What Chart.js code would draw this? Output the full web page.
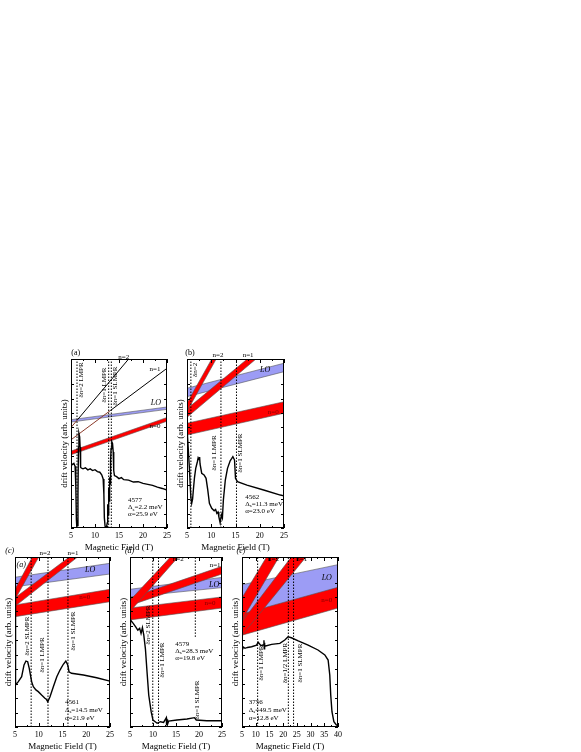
<!DOCTYPE html>
<html>
<head>
<meta charset="utf-8">
<script src="https://cdn.jsdelivr.net/npm/chart.js@4.4.1/dist/chart.umd.min.js"></script>
<style>
  html, body { margin: 0; background: #fff; }
  body { position: relative; width: 581px; height: 752px; overflow: hidden; }
  canvas { position: absolute; }
</style>
</head>
<body>
<canvas id="chartA"></canvas>
<canvas id="chartB"></canvas>
<canvas id="chartC"></canvas>
<canvas id="chartD"></canvas>
<canvas id="chartE"></canvas>
<script>
// field in T, drift velocity in arb. units (0 = frame bottom, 100 = frame top)

// ---- panel (a), sample 4577 ----
const aDrift = [[5,38.5],[5.3,37.5],[5.6,38.2],[5.85,36.5],[6.0,25],[6.12,5],[6.2,1],[6.35,1.5],[6.45,20],[6.55,48],[6.65,56],[6.8,54],[6.9,48],[7.0,36],[7.15,35.5],[7.5,35],[8,35.6],[8.5,34.4],[9,35],[9.5,34],[10,34.5],[10.5,33.4],[11,33],[11.4,31.5],[11.7,29],[11.85,20],[11.95,6],[12.1,1],[12.4,0.5],[12.55,3],[12.65,14],[12.75,8],[12.85,24],[12.95,16],[13.05,30],[13.15,26],[13.25,40],[13.35,47],[13.5,51],[13.65,50],[13.8,45],[13.9,34],[14.05,31],[14.5,30.4],[15,29.2],[15.5,29.8],[16,28.6],[17,28.3],[18,27.2],[19,27.4],[20,26.4],[21,25.8],[22,25.2],[23,24.2],[24,23.4],[25,22.5]]
const aLoLow = [[5,62.7],[25,70.2]]
const aLoHigh = [[5,64.1],[25,71.6]]
const aN0Low = [[5,43.3],[25,63.2]]
const aN0High = [[5,45.5],[25,65.4]]
const aN1 = [[5,52.2],[13.2,69.5],[25,94.5]]
const aN2 = [[5,59.5],[6.4,64.2],[25,127]]
const aMarks = [6.25, 12.85, 13.4]

// ---- panel (b), sample 4562 ----
const bDrift = [[5.0,58],[5.07,56],[5.48,36],[5.8,18],[5.97,14.6],[6.15,17],[6.31,22.5],[6.55,30],[6.8,35.3],[7.14,39.2],[7.3,41.5],[7.48,40.5],[7.6,42],[7.69,37.9],[8.03,32.4],[8.52,31.4],[8.93,29.4],[9.28,22.5],[9.62,14.6],[10.1,11.7],[10.6,10.2],[10.9,11],[11.15,8.7],[11.4,9.5],[11.56,6.7],[11.83,3.1],[12.1,7.7],[12.3,6],[12.5,16.6],[12.9,28.4],[13.35,35.3],[13.9,39.8],[14.2,41],[14.46,42.2],[14.8,40.2],[15.0,29.4],[15.4,27.4],[17.36,25.4],[20.8,22.5],[24.25,19.5],[25,19]]
const bLoLow = [[5,77.7],[25,92.5]]
const bLoHigh = [[5,82.7],[25,97.5]]
const bN0Low = [[5,55],[25,67.9]]
const bN0High = [[5,62],[25,74.7]]
const bN1Low = [[5,65.5],[25,114]]
const bN1High = [[5,70.5],[25,118]]
const bN2Low = [[5,69],[25,172]]
const bN2High = [[5,74],[25,176]]
const bMarks = [5.8, 12.0, 15.2]

// ---- panel (c), sample 4561 ----
const cDrift = [[5.0,82],[5.08,50],[5.15,24.7],[5.7,26.7],[6.4,29.6],[6.9,36.5],[7.3,38.8],[7.67,38.4],[8.0,34.5],[8.5,26.7],[8.86,23.7],[9.4,21.8],[9.9,20.8],[10.6,18.8],[11.3,16.9],[11.6,16.3],[11.9,14.9],[12.37,17.8],[13.07,23.7],[13.8,29.6],[14.47,33.5],[15.17,36.9],[15.7,38.8],[16.1,36.5],[16.37,32.5],[16.9,31.6],[19.4,30.6],[22.2,29],[25,27]]
const cLoLow = [[5,82.5],[25,90]]
const cLoHigh = [[5,88.1],[25,96.3]]
const cN0Low = [[5,64.9],[25,73.7]]
const cN0High = [[5,71.8],[25,81]]
const cN1Low = [[5,71],[25,115]]
const cN1High = [[5,76],[25,118]]
const cN2Low = [[5,75],[25,175]]
const cN2High = [[5,81],[25,185]]
const cMarks = [8.4, 11.95, 16.15]

// ---- panel (d), sample 4579 ----
const dDrift = [[5.0,64],[5.1,62.9],[5.7,61],[6.2,59],[6.7,57],[7.1,58],[7.4,55],[7.7,58.4],[8.0,54],[8.35,46],[8.7,32.5],[9.07,18.8],[9.6,9],[10.0,4.1],[10.9,2.2],[11.6,3.1],[12.3,2.7],[12.9,5.5],[12.95,1],[13.05,4.5],[13.15,1.5],[13.4,3.5],[15.2,4.1],[17.4,4.7],[19.0,5.5],[19.4,4.1],[21.7,3.7],[25,3.7]]
const dLoLow = [[5,76.5],[25,82]]
const dLoHigh = [[5,81],[25,88]]
const dN0Low = [[5,63],[25,70]]
const dN0High = [[5,70],[25,76.5]]
const dN1Low = [[5,71.5],[25,90]]
const dN1High = [[5,76],[25,94.5]]
const dN2Low = [[5,68],[25,129]]
const dN2High = [[5,74.5],[25,132.5]]
const dMarks = [9.95, 11.2, 19.2]
const dMarkEnds = [0, 0, 53]

// ---- panel (e), sample 3756 ----
const eDrift = [[5.0,44.5],[5.1,45.3],[5.5,47],[6.1,46.3],[7,46.8],[8.5,47.2],[10.3,48.2],[10.9,49.8],[11.9,47.8],[12.9,48.4],[13.0,51],[13.1,46],[13.2,49.5],[13.3,47.5],[15.8,48.6],[18.8,49.2],[20.6,51.2],[21.8,53.1],[23,52.5],[25.5,50.6],[29.1,48.2],[32.7,45.3],[35.2,42.4],[36.4,39.4],[37,30.6],[37.35,18.8],[37.8,9],[38.5,3.1],[39.4,1.2],[40,0.8]]
const eLoLow = [[5,66],[40,80]]
const eLoHigh = [[5,83.7],[40,95.5]]
const eN0Low = [[5,54],[40,70]]
const eN0High = [[5,66.5],[40,82.2]]
const eN1Low = [[5,54],[40,123]]
const eN1High = [[5,62],[40,136]]
const eN2Low = [[5,63],[40,159]]
const eN2High = [[5,76],[40,170]]
const eMarks = [10.7, 21.9, 23.8]

const RED = '#ff0000'
const BLUE = '#9c9cf5'
const EDGE = '#555'
const FONT = 'Liberation Serif'
const PAD_T = 14, PAD_R = 6, Y_W = 12, X_H = 25

Chart.defaults.font.family = FONT
Chart.defaults.color = '#000'

function pts(arr) {
	return arr.map(p => ({ x: p[0], y: p[1] }))
}

function band(low, high, color, order) {
	return [
		{ data: pts(low), borderColor: EDGE, borderWidth: 0.6, fill: false, order },
		{ data: pts(high), borderColor: EDGE, borderWidth: 0.6, backgroundColor: color, fill: '-1', order },
	]
}

function marks(xs, ends) {
	return xs.map((m, i) => ({
		data: [{ x: m, y: ends ? ends[i] : 0 }, { x: m, y: 100 }],
		borderColor: '#000', borderWidth: 1, borderDash: [1.5, 1.5], fill: false, order: 5,
	}))
}

function curve(arr) {
	return { data: pts(arr), borderColor: '#000', borderWidth: 1.4, fill: false, order: 1 }
}

// frame, inward ticks, labels and the sample note
function decor(texts, note) {
	return {
		id: 'decor',
		afterDatasetsDraw(chart) {
			const { ctx, chartArea: ca, scales: { x, y } } = chart
			ctx.save()
			ctx.strokeStyle = '#000'
			ctx.lineWidth = 1
			ctx.setLineDash([])
			ctx.beginPath()
			x.ticks.forEach(t => {
				const px = Math.round(x.getPixelForValue(t.value)) + 0.5
				const len = t.value % 5 === 0 ? 4 : 2
				ctx.moveTo(px, ca.bottom); ctx.lineTo(px, ca.bottom - len)
				ctx.moveTo(px, ca.top); ctx.lineTo(px, ca.top + len)
			})
			y.ticks.forEach(t => {
				const py = Math.round(y.getPixelForValue(t.value)) + 0.5
				ctx.moveTo(ca.left, py); ctx.lineTo(ca.left + 3, py)
				ctx.moveTo(ca.right, py); ctx.lineTo(ca.right - 3, py)
			})
			ctx.stroke()
			ctx.strokeRect(Math.round(ca.left) + 0.5, Math.round(ca.top) + 0.5, Math.round(ca.width) - 1, Math.round(ca.height) - 1)

			ctx.textBaseline = 'middle'
			texts.forEach(t => {
				ctx.font = (t.italic ? 'italic ' : '') + (t.size || 7) + 'px "' + FONT + '"'
				ctx.fillStyle = t.color || '#000'
				ctx.textAlign = 'center'
				const px = x.getPixelForValue(t.x)
				const py = y.getPixelForValue(t.y)
				if (t.rot) {
					ctx.save()
					ctx.translate(px, py)
					ctx.rotate(-Math.PI / 2)
					ctx.fillText(t.text, 0, 0)
					ctx.restore()
				} else {
					ctx.fillText(t.text, px, py)
				}
			})

			ctx.fillStyle = '#000'
			ctx.textAlign = 'left'
			const nx = x.getPixelForValue(note.x)
			const ny = note.y.map(v => y.getPixelForValue(v))
			ctx.font = '7px "' + FONT + '"'
			ctx.fillText(note.id, nx, ny[0])
			let cx = nx
			ctx.fillText('Δ', cx, ny[1])
			cx += ctx.measureText('Δ').width
			ctx.font = '5px "' + FONT + '"'
			ctx.fillText('s', cx, ny[1] + 2)
			cx += ctx.measureText('s').width
			ctx.font = '7px "' + FONT + '"'
			ctx.fillText('=' + note.ds + ' meV', cx, ny[1])
			ctx.fillText('α=' + note.alpha + ' eV', nx, ny[2])
			ctx.restore()
		},
	}
}

function makePanel(id, area, xMax, datasets, texts, note) {
	const canvas = document.getElementById(id)
	canvas.width = Y_W + area.width + PAD_R
	canvas.height = PAD_T + area.height + X_H
	canvas.style.left = area.left - Y_W + 'px'
	canvas.style.top = area.top - PAD_T + 'px'

	new Chart(canvas, {
		type: 'line',
		data: { datasets },
		options: {
			responsive: false,
			animation: false,
			devicePixelRatio: 1,
			layout: { padding: { top: PAD_T, right: PAD_R, left: 0, bottom: 0 } },
			plugins: { legend: { display: false }, tooltip: { enabled: false } },
			elements: { point: { radius: 0 }, line: { tension: 0 } },
			scales: {
				x: {
					type: 'linear', min: 5, max: xMax,
					grid: { display: false, drawTicks: false }, border: { display: false },
					ticks: {
						stepSize: 2.5, autoSkip: false, maxRotation: 0, padding: 3, font: { size: 8 },
						callback: v => (v % 5 === 0 ? v : ''),
					},
					title: { display: true, text: 'Magnetic Field (T)', font: { size: 9 }, padding: 0 },
					afterFit: s => { s.height = X_H; s.paddingLeft = 0; s.paddingRight = 0 },
				},
				y: {
					type: 'linear', min: 0, max: 100,
					grid: { display: false, drawTicks: false }, border: { display: false },
					ticks: { display: false, stepSize: 8.5 },
					title: { display: true, text: 'drift velocity (arb. units)', font: { size: 9 }, padding: 0 },
					afterFit: s => { s.width = Y_W; s.paddingTop = 0; s.paddingBottom = 0 },
				},
			},
		},
		plugins: [decor(texts, note)],
	})
}

const DARK = '#800000'

// (a)
makePanel('chartA', { left: 71, top: 359, width: 96, height: 169 }, 25, [
	curve(aDrift),
	...marks(aMarks),
	{ data: pts(aN2), borderWidth: 1, fill: false, order: 8, segment: { borderColor: c => (c.p0DataIndex === 0 ? '#8b3a2a' : '#000') } },
	{ data: pts(aN1), borderWidth: 1, fill: false, order: 8, segment: { borderColor: c => (c.p0DataIndex === 0 ? '#8b3a2a' : '#000') } },
	...band(aN0Low, aN0High, RED, 20),
	...band(aLoLow, aLoHigh, BLUE, 30),
], [
	{ text: '(a)', x: 6, y: 103.5, size: 8 },
	{ text: 'n=2', x: 16, y: 101 },
	{ text: 'n=1', x: 22.5, y: 94 },
	{ text: 'LO', x: 22.7, y: 74, italic: true, size: 8 },
	{ text: 'n=0', x: 22.5, y: 60 },
	{ text: 'δn=2 LMPR', x: 7.1, y: 87.6, rot: true },
	{ text: 'δn=1 LMPR', x: 12.0, y: 84.6, rot: true },
	{ text: 'δn=1 SLMPR', x: 14.3, y: 84, rot: true },
], { x: 16.9, y: [16.2, 12.1, 8.1], id: '4577', ds: '2.2', alpha: '25.9' })

// (b)
makePanel('chartB', { left: 187, top: 359, width: 97, height: 169 }, 25, [
	curve(bDrift),
	...marks(bMarks),
	...band(bN2Low, bN2High, RED, 18),
	...band(bN1Low, bN1High, RED, 19),
	...band(bN0Low, bN0High, RED, 20),
	...band(bLoLow, bLoHigh, BLUE, 30),
], [
	{ text: '(b)', x: 5.6, y: 103.5, size: 8 },
	{ text: 'n=2', x: 11.4, y: 102.4 },
	{ text: 'n=1', x: 17.6, y: 102.4 },
	{ text: 'LO', x: 21.1, y: 93.5, italic: true, size: 8 },
	{ text: 'n=0', x: 22.8, y: 68.6, color: DARK },
	{ text: 'δn=2', x: 6.76, y: 93.5, rot: true },
	{ text: 'δn=1 LMPR', x: 10.5, y: 44.4, rot: true },
	{ text: 'δn=1 SLMPR', x: 16, y: 44.4, rot: true },
], { x: 17, y: [18.3, 14.2, 10], id: '4562', ds: '11.3', alpha: '23.0' })

// (c)
makePanel('chartC', { left: 15, top: 557, width: 95, height: 170 }, 25, [
	curve(cDrift),
	...marks(cMarks),
	...band(cN2Low, cN2High, RED, 18),
	...band(cN1Low, cN1High, RED, 19),
	...band(cN0Low, cN0High, RED, 20),
	...band(cLoLow, cLoHigh, BLUE, 30),
], [
	{ text: '(c)', x: 3.9, y: 103.5, size: 8, italic: true },
	{ text: '(a)', x: 6.3, y: 95.3, size: 8, italic: true },
	{ text: 'n=2', x: 11.3, y: 102.4 },
	{ text: 'n=1', x: 17.2, y: 102.4 },
	{ text: 'LO', x: 20.8, y: 92.4, italic: true, size: 8 },
	{ text: 'n=0', x: 19.7, y: 76.5, color: DARK },
	{ text: 'δn=2 SLMPR', x: 7.5, y: 53.5, rot: true },
	{ text: 'δn=1 LMPR', x: 10.7, y: 42.4, rot: true },
	{ text: 'δn=1 SLMPR', x: 17.2, y: 56.5, rot: true },
], { x: 15.5, y: [14.9, 10, 5.1], id: '4561', ds: '14.5', alpha: '21.9' })

// (d)
makePanel('chartD', { left: 130, top: 557, width: 92, height: 170 }, 25, [
	curve(dDrift),
	...marks(dMarks, dMarkEnds),
	...band(dN2Low, dN2High, RED, 18),
	...band(dN1Low, dN1High, RED, 19),
	...band(dN0Low, dN0High, RED, 20),
	...band(dLoLow, dLoHigh, BLUE, 30),
], [
	{ text: '(d)', x: 4.9, y: 103.5, size: 8, italic: true },
	{ text: 'n=2', x: 15.5, y: 98.5 },
	{ text: 'n=1', x: 23.5, y: 95.3 },
	{ text: 'LO', x: 23.3, y: 83.5, italic: true, size: 8 },
	{ text: 'n=0', x: 22.4, y: 73.1, color: DARK },
	{ text: 'δn=2 SLMPR', x: 9.0, y: 60, rot: true },
	{ text: 'δn=1 LMPR', x: 12.0, y: 39.4, rot: true },
	{ text: 'δn=1 SLMPR', x: 19.5, y: 15.9, rot: true },
], { x: 14.85, y: [48.8, 44.7, 40.6], id: '4579', ds: '28.3', alpha: '19.8' })

// (e)
makePanel('chartE', { left: 242, top: 557, width: 96, height: 170 }, 40, [
	curve(eDrift),
	...marks(eMarks),
	...band(eN2Low, eN2High, RED, 18),
	...band(eN1Low, eN1High, RED, 19),
	...band(eN0Low, eN0High, RED, 20),
	...band(eLoLow, eLoHigh, BLUE, 30),
], [
	{ text: '(e)', x: 4.6, y: 103.5, size: 8, italic: true },
	{ text: 'n=2', x: 16.5, y: 98.5 },
	{ text: 'n=1', x: 26.8, y: 98.5 },
	{ text: 'LO', x: 35.9, y: 87.5, italic: true, size: 8 },
	{ text: 'n=0', x: 35.9, y: 74.5, color: DARK },
	{ text: 'δn=1 LMPR', x: 11.9, y: 37.6, rot: true },
	{ text: 'δn=1/2 LMPR', x: 20.9, y: 37.6, rot: true },
	{ text: 'δn=1 SLMPR', x: 26.1, y: 37.6, rot: true },
], { x: 7.5, y: [14.9, 10, 5.1], id: '3756', ds: '49.5', alpha: '12.8' })
</script>
</body>
</html>
